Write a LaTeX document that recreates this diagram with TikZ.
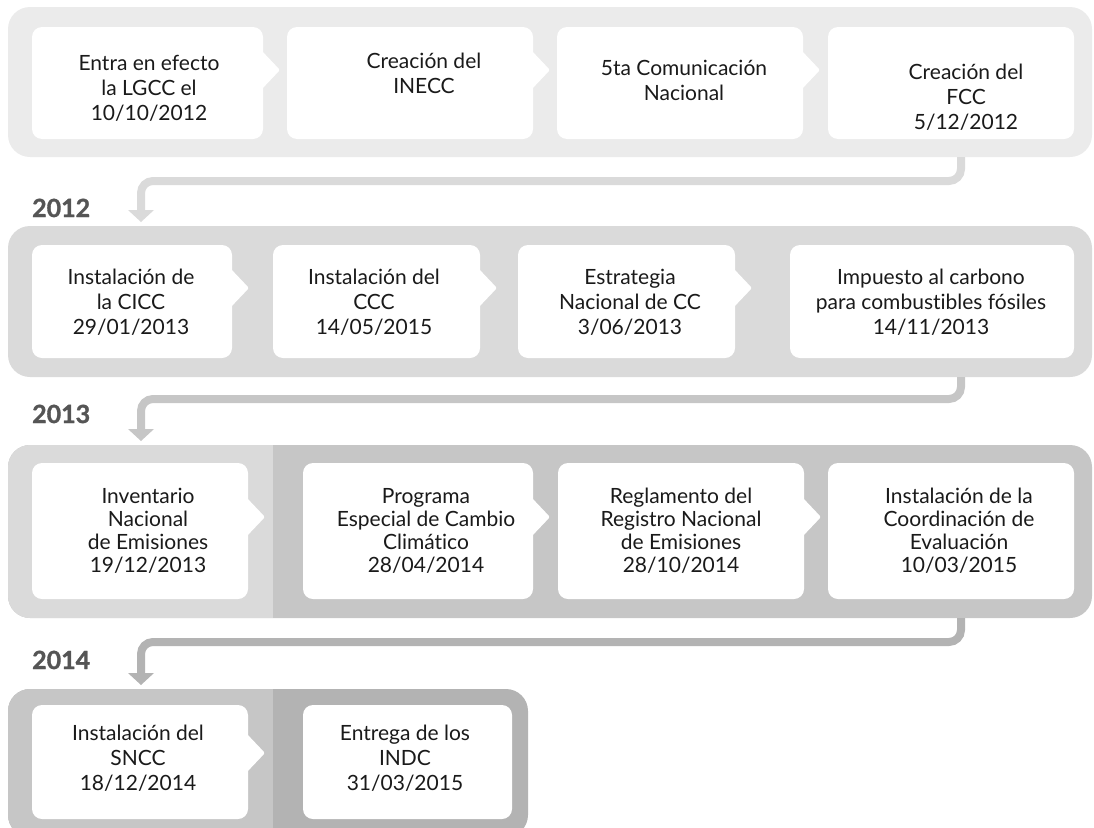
\documentclass[tikz,border=0pt]{standalone}
\usepackage{fontspec}
\setmainfont{Lato}[Ligatures=NoCommon]
\newfontfamily\yearfont{Lato}[BoldFeatures={FakeBold=1.3}]
\usetikzlibrary{arrows.meta,calc}
\definecolor{bandA}{HTML}{EBEBEB}
\definecolor{bandB}{HTML}{DADADA}
\definecolor{bandC}{HTML}{C6C6C6}
\definecolor{bandD}{HTML}{B3B3B3}
\definecolor{yeargray}{HTML}{555555}
\definecolor{txt}{HTML}{1A1A1A}
\newcommand{\boxptr}[2]{\fill[white, rounded corners=2pt] ($(#1.north east)+(-2,#2-20)$) -- ($(#1.north east)+(17,#2)$) -- ($(#1.north east)+(-2,#2+20)$) -- cycle;}
\begin{document}
\begin{tikzpicture}[x=1pt,y=-1pt,
  band/.style={rectangle, rounded corners=22pt, inner sep=0pt, outer sep=0pt},
  evbox/.style={rectangle, rounded corners=10pt, fill=white, inner sep=0pt, outer sep=0pt},
  evtext/.style={anchor=base, align=center, font=\fontsize{21}{25}\selectfont, text=txt, inner sep=0pt},
  evtextB/.style={evtext, font=\fontsize{21}{23}\selectfont},
  yearlbl/.style={anchor=base west, font=\yearfont\fontsize{25}{30}\selectfont\bfseries, text=yeargray, inner sep=0pt},
  conn/.style={line width=8pt, rounded corners=12pt, shorten >=4pt, -{Triangle[width=26pt,length=12pt,line width=0pt]}},
  splitA/.style={path picture={\fill[bandB, sharp corners] (path picture bounding box.south west) rectangle ($(path picture bounding box.north west)+(265,0)$);}},
  splitB/.style={path picture={\fill[bandC, sharp corners] (path picture bounding box.south west) rectangle ($(path picture bounding box.north west)+(265,0)$);}},
]
\useasboundingbox (0,0) rectangle (1094,827);
% bands
\node[band, fill=bandA, minimum width=1084pt, minimum height=150pt] (r1) at (550,82) {};
\node[band, fill=bandB, minimum width=1084pt, minimum height=151pt] (r2) at (550,301.5) {};
\node[band, fill=bandC, splitA, minimum width=1084pt, minimum height=173pt] (r3) at (550,531.5) {};
\node[band, fill=bandD, splitB, minimum width=520pt, minimum height=148pt] (r4) at (268,763) {};
% connectors
\coordinate (j1) at (961,181); \coordinate (k1) at (141,181);
\coordinate (j2) at (961,399); \coordinate (k2) at (141,399);
\coordinate (j3) at (961,642); \coordinate (k3) at (141,642);
\draw[conn, draw=bandB] (r1.south -| j1) -- (j1) -- (k1) -- (k1 |- r2.north);
\draw[conn, draw=bandC] (r2.south -| j2) -- (j2) -- (k2) -- (k2 |- r3.north);
\draw[conn, draw=bandD] (r3.south -| j3) -- (j3) -- (k3) -- (k3 |- r4.north);
% year labels
\node[yearlbl] (y12) at (32,217) {2012};
\node[yearlbl] (y13) at (32,423) {2013};
\node[yearlbl] (y14) at (32,669) {2014};
% row 1 boxes
\node[evbox, minimum width=231pt, minimum height=112pt] (a1) at (147.5,83) {};
\node[evbox, minimum width=246pt, minimum height=112pt] (a2) at (410,83) {};
\node[evbox, minimum width=246pt, minimum height=112pt] (a3) at (680,83) {};
\node[evbox, minimum width=246pt, minimum height=112pt] (a4) at (951,83) {};
\boxptr{a1}{43}\boxptr{a2}{43}\boxptr{a3}{43}
% row 2 boxes
\node[evbox, minimum width=200pt, minimum height=113pt] (b1) at (132,301.5) {};
\node[evbox, minimum width=207pt, minimum height=113pt] (b2) at (376.5,301.5) {};
\node[evbox, minimum width=217pt, minimum height=113pt] (b3) at (626.5,301.5) {};
\node[evbox, minimum width=284pt, minimum height=113pt] (b4) at (932,301.5) {};
\boxptr{b1}{43}\boxptr{b2}{43}\boxptr{b3}{43}
% row 3 boxes
\node[evbox, minimum width=216pt, minimum height=136pt] (c1) at (140,531) {};
\node[evbox, minimum width=230pt, minimum height=136pt] (c2) at (418,531) {};
\node[evbox, minimum width=246pt, minimum height=136pt] (c3) at (681,531) {};
\node[evbox, minimum width=246pt, minimum height=136pt] (c4) at (951,531) {};
\boxptr{c1}{54}\boxptr{c2}{54}\boxptr{c3}{54}
% row 4 boxes
\node[evbox, minimum width=216pt, minimum height=114pt] (d1) at (140,762) {};
\node[evbox, minimum width=209pt, minimum height=114pt] (d2) at (407.5,762) {};
\boxptr{d1}{48}
% texts (anchor = baseline of last line)
\node[evtext] (ta1) at (149,120) {Entra en efecto\\la LGCC el\\10/10/2012};
\node[evtext] (ta2) at (424,93) {Creación del\\INECC};
\node[evtext] (ta3) at (684,100) {5ta Comunicación\\Nacional};
\node[evtext] (ta4) at (966,129) {Creación del\\FCC\\5/12/2012};
\node[evtext] (tb1) at (131,334) {Instalación de\\la CICC\\29/01/2013};
\node[evtext] (tb2) at (374,334) {Instalación del\\CCC\\14/05/2015};
\node[evtext] (tb3) at (630,334) {Estrategia\\Nacional de CC\\3/06/2013};
\node[evtext] (tb4) at (931,334) {Impuesto al carbono\\para combustibles fósiles\\14/11/2013};
\node[evtextB] (tc1) at (148,572) {Inventario\\Nacional\\de Emisiones\\19/12/2013};
\node[evtextB] (tc2) at (426,572) {Programa\\Especial de Cambio\\Climático\\28/04/2014};
\node[evtextB] (tc3) at (681,572) {Reglamento del\\Registro Nacional\\de Emisiones\\28/10/2014};
\node[evtextB] (tc4) at (959,572) {Instalación de la\\Coordinación de\\Evaluación\\10/03/2015};
\node[evtext] (td1) at (138,790) {Instalación del\\SNCC\\18/12/2014};
\node[evtext] (td2) at (405,790) {Entrega de los\\INDC\\31/03/2015};
\end{tikzpicture}
\end{document}
